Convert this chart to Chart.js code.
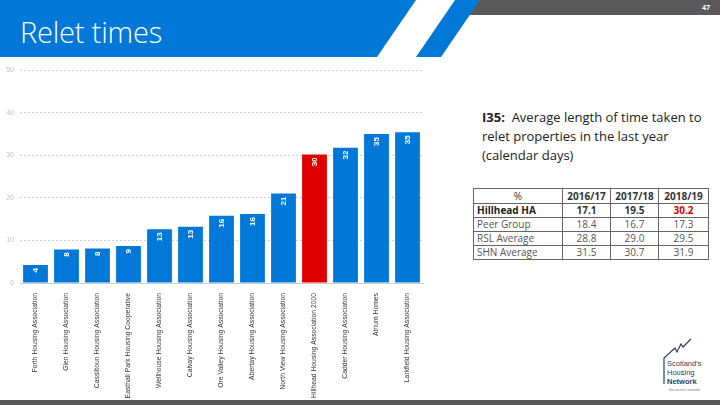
<!DOCTYPE html>
<html lang="en">
<head>
<meta charset="UTF-8">
<title>Relet times</title>
<script src="https://cdn.jsdelivr.net/npm/chart.js"></script>
<style>
  html, body { margin: 0; padding: 0; }
  body { width: 720px; height: 405px; position: relative; overflow: hidden; background: #fff; font-family: "Open Sans", sans-serif; }
  #header { position: absolute; left: 0; top: 0; }
  .titulo { position: absolute; left: 20px; top: 12px; color: #fff; font-size: 29px; font-weight: 300; letter-spacing: -0.2px; }
  .pagina { position: absolute; left: 702px; top: 3px; color: #fff; font-size: 7px; font-weight: bold; }
  .grafico { position: absolute; left: 0; top: 60px; width: 440px; height: 340px; }
  .descricao { position: absolute; left: 482px; top: 108px; width: 225px; font-size: 13px; line-height: 19px; color: #222; }
  .descricao b { font-weight: bold; }
  table { position: absolute; left: 473px; top: 188px; border-collapse: collapse; font-size: 10px; color: #555; table-layout: fixed; }
  td { border: 1px solid #666; height: 13px; padding: 0 3px; text-align: center; line-height: 13px; }
  td.nome { text-align: left; width: 82px; }
  tr.topo td { height: 14px; font-weight: bold; color: #333; }
  tr.topo td.nome { text-align: center; font-weight: normal; }
  tr.destaque td { font-weight: bold; color: #333; }
  tr.destaque td.nome { color: #222; }
  td.vermelho { color: #d40000 !important; }
  td.ano { width: 41px; }
  td.ano.ult { width: 43px; }
  #barra { position: absolute; left: 0; top: 400px; width: 720px; height: 5px; background: #595959; }
  #logo { position: absolute; left: 655px; top: 336px; }
</style>
</head>
<body>
  <svg id="header" width="720" height="60">
    <rect x="460" y="0" width="260" height="15" fill="#595959"></rect>
    <polygon points="0,0 416,0 377,57 0,57" fill="#0078d7"></polygon>
    <polygon points="455,0 480,0 441,57 416,57" fill="#0078d7"></polygon>
  </svg>
  <div class="titulo">Relet times</div>
  <div class="pagina">47</div>

  <div class="grafico"><canvas id="myChart"></canvas></div>

  <div class="descricao"><b>I35:</b>&nbsp; Average length of time taken to relet properties in the last year (calendar days)</div>

  <table id="tabela"></table>

  <svg id="logo" width="65" height="62">
    <polyline points="9,48 9,22 20,12 22,16 26,8 28,11 36,3" fill="none" stroke="#2b3f5c" stroke-width="1.2"></polyline>
    <text x="12" y="30" font-size="7.5" fill="#2b3f5c" font-family="Liberation Sans">Scotland's</text>
    <text x="12" y="39" font-size="7.5" fill="#2b3f5c" font-family="Liberation Sans">Housing</text>
    <text x="12" y="48" font-size="7.5" font-weight="bold" fill="#2b3f5c" font-family="Liberation Sans">Network</text>
    <text x="14" y="55" font-size="3.5" fill="#6a7a8c" font-family="Liberation Sans">the sector's network</text>
  </svg>

  <div id="barra"></div>

<script>
  // dados do grafico
  const categorias = [
    'Forth Housing Association',
    'Glen Housing Association',
    'Cassiltoun Housing Association',
    'Easthall Park Housing Cooperative',
    'Wellhouse Housing Association',
    'Calvay Housing Association',
    'Ore Valley Housing Association',
    'Abertay Housing Association',
    'North View Housing Association',
    'Hillhead Housing Association 2000',
    'Cadder Housing Association',
    'Atrium Homes',
    'Larkfield Housing Association'
  ];
  const dias = [4.2, 7.9, 8.1, 8.7, 12.6, 13.2, 15.8, 16.2, 21.0, 30.2, 31.8, 35.0, 35.4];
  const rotulos = ['4', '8', '8', '9', '13', '13', '16', '16', '21', '30', '32', '35', '35'];
  const ticksY = [0, 10, 20, 30, 40, 50];

  // dados da tabela
  const anos = ['2016/17', '2017/18', '2018/19'];
  const linhasTabela = ['Hillhead HA', 'Peer Group', 'RSL Average', 'SHN Average'];
  const hillhead = ['17.1', '19.5', '30.2'];
  const peerGroup = ['18.4', '16.7', '17.3'];
  const rslAverage = ['28.8', '29.0', '29.5'];
  const shnAverage = ['31.5', '30.7', '31.9'];

  montarTabela();
  plotarGrafico();

  function montarTabela() {
    const valores = [hillhead, peerGroup, rslAverage, shnAverage];
    let html = '<tr class="topo"><td class="nome">%</td>';
    for (let i = 0; i < anos.length; i++) {
      html += '<td class="ano' + (i == anos.length - 1 ? ' ult' : '') + '">' + anos[i] + '</td>';
    }
    html += '</tr>';
    for (let r = 0; r < linhasTabela.length; r++) {
      html += '<tr' + (r == 0 ? ' class="destaque"' : '') + '><td class="nome">' + linhasTabela[r] + '</td>';
      for (let c = 0; c < valores[r].length; c++) {
        const cls = (r == 0 && c == valores[r].length - 1) ? ' class="vermelho"' : '';
        html += '<td' + cls + '>' + valores[r][c] + '</td>';
      }
      html += '</tr>';
    }
    document.getElementById('tabela').innerHTML = html;
  }

  function plotarGrafico() {
    // rotulos brancos dentro das barras, girados
    const rotulosBarras = {
      id: 'rotulosBarras',
      afterDatasetsDraw(chart) {
        const ctx = chart.ctx;
        const meta = chart.getDatasetMeta(0);
        ctx.save();
        ctx.fillStyle = '#fff';
        ctx.font = 'bold 8px "Liberation Sans", Arial, sans-serif';
        ctx.textAlign = 'right';
        ctx.textBaseline = 'middle';
        meta.data.forEach(function (bar, i) {
          ctx.save();
          ctx.translate(bar.x, bar.y + 3);
          ctx.rotate(-Math.PI / 2);
          ctx.fillText(rotulos[i], 0, 0);
          ctx.restore();
        });
        ctx.restore();
      }
    };

    const config = {
      type: 'bar',
      data: {
        labels: categorias,
        datasets: [{
          data: dias,
          backgroundColor: function (c) {
            return categorias[c.dataIndex].indexOf('Hillhead') == 0 ? '#e00000' : '#0078d7';
          },
          borderWidth: 0,
          categoryPercentage: 1,
          barPercentage: 0.8
        }]
      },
      options: {
        responsive: true,
        maintainAspectRatio: false,
        animation: false,
        devicePixelRatio: 1,
        layout: { padding: { top: 9, right: 17, left: 0, bottom: 0 } },
        plugins: { legend: { display: false }, tooltip: { enabled: false } },
        scales: {
          x: {
            grid: { display: false },
            border: { color: '#cccccc' },
            ticks: {
              autoSkip: false,
              minRotation: 90,
              maxRotation: 90,
              padding: 2,
              color: '#333333',
              font: { family: '"Liberation Sans", Arial, sans-serif', size: 6.8 }
            },
            afterFit: function (s) { s.height = 117; }
          },
          y: {
            min: 0,
            max: 50,
            afterBuildTicks: function (s) { s.ticks = ticksY.map(v => ({ value: v })); },
            border: { display: false, dash: [2, 2] },
            grid: {
              color: function (c) { return c.tick.value == 0 ? 'rgba(0,0,0,0)' : '#cfcfcf'; },
              drawTicks: false
            },
            ticks: {
              padding: 6,
              color: '#c0c0c0',
              font: { family: '"Liberation Sans", Arial, sans-serif', size: 7 }
            },
            afterFit: function (s) { s.width = 20; }
          }
        }
      },
      plugins: [rotulosBarras]
    };

    new Chart(document.getElementById('myChart'), config);
  }
</script>
</body>
</html>
